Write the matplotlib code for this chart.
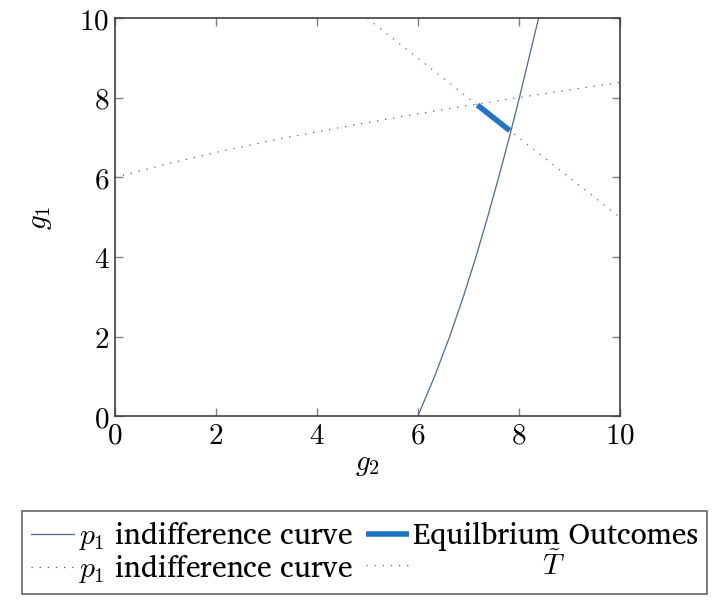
import numpy as np
import matplotlib.pyplot as plt
from matplotlib.ticker import FuncFormatter

plt.rcParams['mathtext.fontset'] = 'cm'

# indifference curve: g2 reached for each g1 (mirrored for the dotted one)
curve_g1 = [0, 1, 2, 3, 4, 5, 6, 7, 8, 9, 10]
curve_g2 = [6.0, 6.33, 6.63, 6.90, 7.15, 7.38, 7.60, 7.81, 8.01, 8.20, 8.39]

# T tilde: g1 + g2 = 15
t_g2 = [5, 10]
t_g1 = [10, 5]

# equilibrium outcomes segment
eq_g2 = [7.18, 7.82]
eq_g1 = [7.82, 7.18]

ticks = [0, 2, 4, 6, 8, 10]

fig = plt.figure(figsize=(7.19, 6.12), dpi=100)
ax = fig.add_axes([0.160, 0.320, 0.702, 0.650])

l1, = ax.plot(curve_g2, curve_g1, color='#4f6a8a', lw=0.9,
              label=r'$p_1$ indifference curve')
l2, = ax.plot(curve_g1, curve_g2, color='#55559a', lw=0.9, ls=(0, (1, 5.5)),
              label=r'$p_1$ indifference curve')
l3, = ax.plot(eq_g2, eq_g1, color='#1f75c4', lw=4.0, solid_capstyle='butt',
              label='Equilbrium Outcomes')
l4, = ax.plot(t_g2, t_g1, color='#a0506e', lw=0.9, ls=(0, (1, 5.5)),
              label=r'$\qquad\qquad\quad\tilde{T}$')

ax.set_xlim(0, 10)
ax.set_ylim(0, 10)
ax.set_xticks(ticks)
ax.set_yticks(ticks)
fmt = FuncFormatter(lambda v, p: f'${v:g}$')
ax.xaxis.set_major_formatter(fmt)
ax.yaxis.set_major_formatter(fmt)
ax.tick_params(direction='in', length=6, width=1, color='#808080',
               top=True, right=True, labelsize=21, pad=4)
for s in ax.spines.values():
    s.set_color('#404040')
    s.set_linewidth(1.2)

ax.set_xlabel(r'$g_2$', fontsize=21, labelpad=0)
ax.set_ylabel(r'$g_1$', fontsize=21, labelpad=18)

leg = fig.legend(handles=[l1, l2, l3, l4], ncol=2, loc='lower left',
                 bbox_to_anchor=(0.031, 0.029),
                 prop={'family': ['Charis SIL', 'DejaVu Serif'], 'size': 21.3},
                 frameon=True, fancybox=False, edgecolor='#404040',
                 handlelength=1.44, handletextpad=0.15, columnspacing=0.44,
                 borderpad=0.3, labelspacing=0.05, borderaxespad=0)
leg.get_frame().set_linewidth(1.2)

fig.savefig('out.png', dpi=100)
